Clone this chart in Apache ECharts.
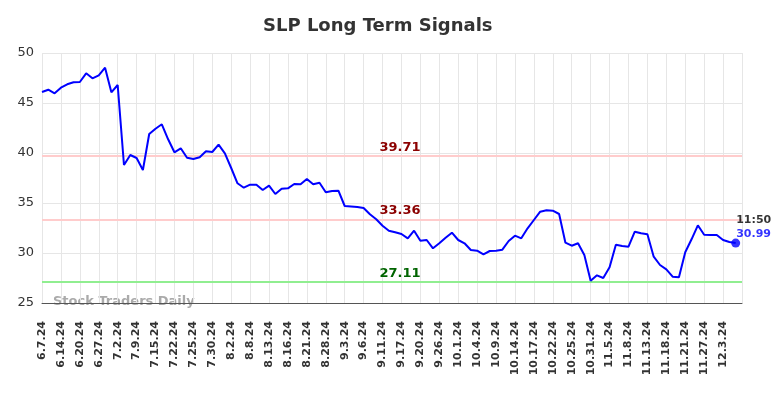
<!DOCTYPE html>
<html>
<head>
<meta charset="utf-8" />
<script src="https://cdn.jsdelivr.net/npm/echarts@6/dist/echarts.min.js"></script>
<style>
  html, body { margin: 0; padding: 0; background: #fff; }
  #chart { width: 784px; height: 398px; }
</style>
</head>
<body>
<div id="chart"></div>
<script>
// x轴刻度（每3个点一个标签）
var tickLabels = [
  "6.7.24", "6.14.24", "6.20.24", "6.27.24", "7.2.24", "7.9.24", "7.15.24",
  "7.22.24", "7.25.24", "7.30.24", "8.2.24", "8.8.24", "8.13.24", "8.16.24",
  "8.21.24", "8.28.24", "9.3.24", "9.6.24", "9.11.24", "9.17.24", "9.20.24",
  "9.26.24", "10.1.24", "10.4.24", "10.9.24", "10.14.24", "10.17.24",
  "10.22.24", "10.25.24", "10.31.24", "11.5.24", "11.8.24", "11.13.24",
  "11.18.24", "11.21.24", "11.27.24", "12.3.24"
];
// 价格
var prices = [
  46.1, 46.33, 45.97, 46.53, 46.87, 47.07, 47.1, 47.97, 47.47, 47.77,
  48.53, 46.07, 46.8, 38.8, 39.8, 39.5, 38.3, 41.9, 42.43, 42.87,
  41.37, 40.07, 40.47, 39.53, 39.4, 39.57, 40.17, 40.1, 40.83, 39.97,
  38.5, 36.97, 36.53, 36.83, 36.83, 36.3, 36.73, 35.9, 36.43, 36.47,
  36.9, 36.87, 37.4, 36.87, 37.03, 36.07, 36.2, 36.23, 34.7, 34.65,
  34.6, 34.5, 33.87, 33.37, 32.73, 32.23, 32.07, 31.9, 31.47, 32.23,
  31.23, 31.3, 30.47, 30.97, 31.53, 32.03, 31.3, 30.97, 30.3, 30.23,
  29.87, 30.2, 30.23, 30.33, 31.2, 31.73, 31.47, 32.47, 33.3, 34.13,
  34.27, 34.23, 33.9, 31.03, 30.73, 30.97, 29.8, 27.23, 27.77, 27.5,
  28.57, 30.83, 30.7, 30.63, 32.13, 31.97, 31.87, 29.63, 28.8, 28.37,
  27.63, 27.57, 30.07, 31.37, 32.77, 31.83, 31.8, 31.8, 31.3, 31.1,
  30.99
];
// 信号线
var resistanceHigh = 39.71;
var resistanceLow = 33.36;
var support = 27.11;
var lastTime = "11:50";
var yTicks = [25, 30, 35, 40, 45, 50];

// 类目：每3个点放一个日期，末尾留一个空位
var categories = [];
for (var i = 0; i <= prices.length; i++) {
  categories.push(i % 3 === 0 && tickLabels[i / 3] ? tickLabels[i / 3] : "");
}
var lastIndex = prices.length - 1;
var lastPrice = prices[lastIndex];

function refLine(val, lineColor, textColor) {
  return {
    yAxis: val,
    lineStyle: { color: lineColor, width: 2, type: "solid" },
    label: {
      show: true,
      position: "insideMiddleTop",
      formatter: val.toFixed(2),
      color: textColor,
      fontWeight: "bold",
      fontSize: 13,
      fontFamily: "DejaVu Sans",
      distance: 2,
      padding: [0, 0, 0, 16],
    },
  };
}

var myChart = echarts.init(document.getElementById("chart"));
var option = {
  animation: false,
  title: {
    text: "SLP Long Term Signals",
    left: 258,
    top: 12,
    textStyle: { fontSize: 18, fontWeight: "bold", color: "#333", fontFamily: "DejaVu Sans" },
  },
  graphic: [
    {
      type: "text",
      left: 53,
      top: 295,
      style: {
        text: "Stock Traders Daily",
        fill: "#aaaaaa",
        font: "bold 13px 'DejaVu Sans'",
      },
    },
  ],
  grid: { left: 42, right: 42, top: 53, bottom: 95 },
  xAxis: {
    type: "category",
    data: categories,
    boundaryGap: false,
    axisLine: { lineStyle: { color: "#555", width: 1 } },
    axisTick: { show: false },
    axisLabel: {
      interval: 2,
      rotate: 90,
      color: "#333",
      fontSize: 11,
      fontWeight: "bold",
      fontFamily: "DejaVu Sans",
      margin: 18,
    },
    splitLine: { show: true, interval: 2, lineStyle: { color: "#e6e6e6", width: 1 } },
  },
  yAxis: {
    type: "value",
    min: yTicks[0],
    max: yTicks[yTicks.length - 1],
    interval: 5,
    axisLine: { show: false },
    axisTick: { show: false },
    axisLabel: { color: "#333", fontSize: 13, fontFamily: "DejaVu Sans", margin: 8 },
    splitLine: { lineStyle: { color: "#e6e6e6", width: 1 } },
  },
  series: [
    {
      type: "line",
      data: prices,
      symbol: "none",
      lineStyle: { color: "#0000ff", width: 2 },
      itemStyle: { color: "#0000ff" },
      markLine: {
        silent: true,
        symbol: "none",
        z: 1,
        data: [
          refLine(resistanceHigh, "#ffcccc", "#8b0000"),
          refLine(resistanceLow, "#ffcccc", "#8b0000"),
          refLine(support, "#90ee90", "#006400"),
        ],
      },
      z: 3,
    },
    {
      // 最新价格点
      type: "scatter",
      data: [[lastIndex, lastPrice]],
      symbol: "circle",
      symbolSize: 9,
      itemStyle: { color: "#0000ff" },
      label: {
        show: true,
        position: [5, -25],
        align: "left",
        formatter: "{a|" + lastTime + "}\n{b|" + lastPrice.toFixed(2) + "}",
        rich: {
          a: { color: "#000", fontWeight: "bold", fontSize: 11, lineHeight: 14, fontFamily: "DejaVu Sans" },
          b: { color: "#0000ff", fontWeight: "bold", fontSize: 11, lineHeight: 14, fontFamily: "DejaVu Sans" },
        },
      },
      z: 6,
    },
  ],
};
myChart.setOption(option);
</script>
</body>
</html>
